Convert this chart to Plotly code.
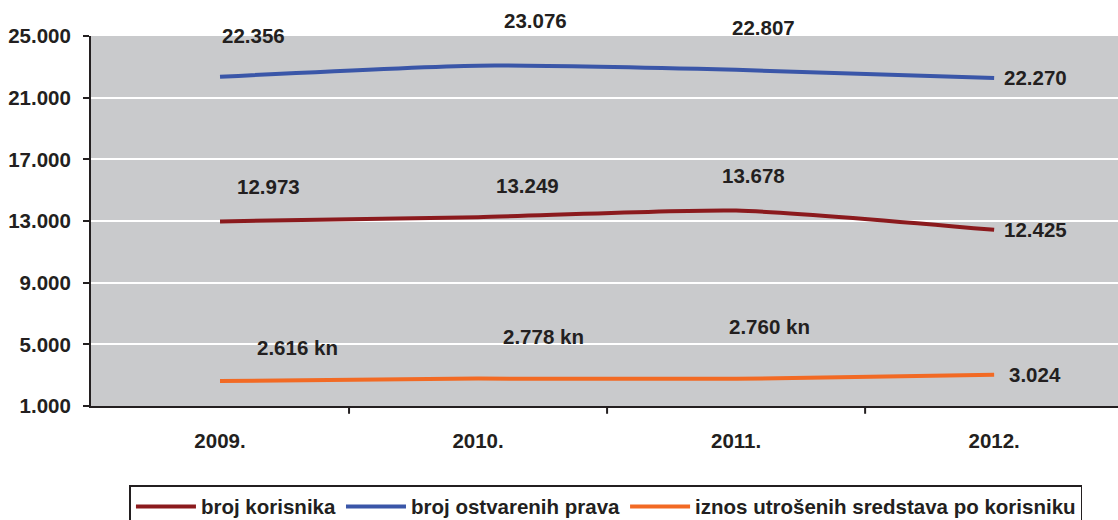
import plotly.graph_objects as go

years = ["2009.", "2010.", "2011.", "2012."]
broj_korisnika = [12973, 13249, 13678, 12425]
broj_prava = [22356, 23076, 22807, 22270]
iznos = [2616, 2778, 2760, 3024]
iznos_suffix = [" kn", " kn", " kn", ""]
y_ticks = [1000, 5000, 9000, 13000, 17000, 21000, 25000]

names = ["broj korisnika", "broj ostvarenih prava", "iznos utrošenih sredstava po korisniku"]
colors = ["#8B1A1D", "#3A56A8", "#F26A24"]
series = [broj_korisnika, broj_prava, iznos]
suffixes = [["", "", "", ""], ["", "", "", ""], iznos_suffix]
# pixel offsets for data labels (layout only)
offsets = [
    [(48, 35), (49, 32), (17, 35), (41, 0)],
    [(33, 41), (57, 45), (27, 42), (41, 1)],
    [(77, 34), (65, 42), (33, 52), (41, 0)],
]

FONT = "Liberation Sans, Arial, sans-serif"
TXT = "#231F20"
FS = 20.5

fig = go.Figure()
x = list(range(len(years)))
for name, col, vals in zip(names, colors, series):
    fig.add_trace(go.Scatter(
        x=x, y=vals, name=name, mode="lines",
        line=dict(color=col, width=4, shape="spline", smoothing=0.6),
        hoverinfo="skip",
    ))

annotations = []
for vals, suf, offs in zip(series, suffixes, offsets):
    for i, v in enumerate(vals):
        annotations.append(dict(
            x=x[i], y=v, xref="x", yref="y",
            text=f"{v:,}".replace(",", ".") + suf[i],
            showarrow=False, xshift=offs[i][0], yshift=offs[i][1],
            font=dict(family=FONT, size=FS, color=TXT, weight="bold"),
        ))

fig.update_layout(
    width=1118, height=520,
    margin=dict(l=91, r=0, t=36, b=114),
    paper_bgcolor="white", plot_bgcolor="#C9CACC",
    separators=",.",
    showlegend=True,
    legend=dict(
        orientation="h", xref="container", x=0.542, xanchor="center",
        yref="container", y=0.067, yanchor="top",
        bgcolor="white", bordercolor="#231F20", borderwidth=1.5,
        font=dict(family=FONT, size=FS, color=TXT, weight="bold"),
        itemwidth=60, tracegroupgap=0,
    ),
    annotations=annotations,
    xaxis=dict(
        range=[-0.5, 3.48], tickvals=x, ticktext=years,
        showgrid=False, zeroline=False, automargin=False,
        showline=True, linecolor="#231F20", linewidth=2,
        ticks="", ticklabelstandoff=15,
        tickfont=dict(family=FONT, size=FS, color=TXT, weight="bold"),
    ),
    yaxis=dict(
        range=[1000, 25000], tickvals=y_ticks, tickformat=",d",
        showgrid=True, gridcolor="white", gridwidth=2,
        zeroline=False, automargin=False,
        showline=True, linecolor="#231F20", linewidth=2,
        ticks="outside", ticklen=6, tickwidth=2, tickcolor="#231F20",
        ticklabelstandoff=8,
        tickfont=dict(family=FONT, size=FS, color=TXT, weight="bold"),
    ),
)

# category boundary tick marks on x axis
for b in [0.5, 1.5, 2.5]:
    fig.add_shape(type="line", xref="x", yref="paper", x0=b, x1=b, y0=0, y1=-0.021,
                  line=dict(color="#231F20", width=2))

fig.write_html("out.html", config={"displayModeBar": False},
               post_script="document.body.style.margin='0';document.body.style.overflow='hidden';")
